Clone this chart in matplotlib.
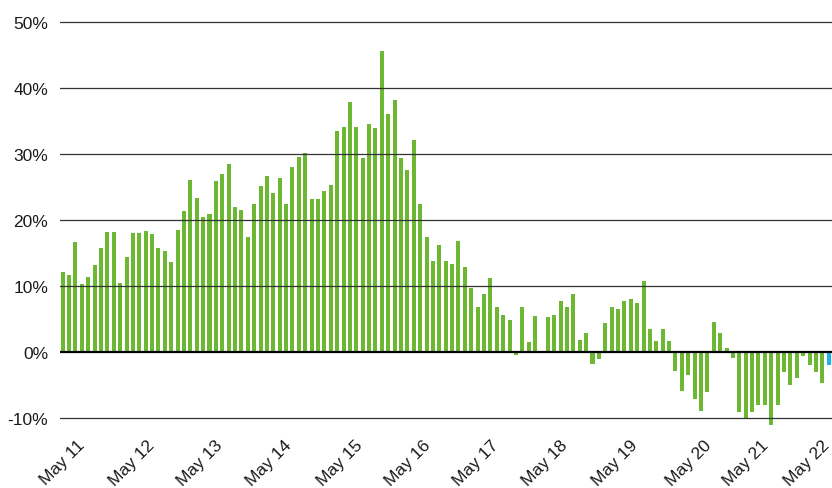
import numpy as np
import matplotlib
matplotlib.use("Agg")
import matplotlib.pyplot as plt

# monthly change, %, last bar is the latest/estimate
values = [
    12.1, 11.7, 16.7, 10.3, 11.4, 13.3, 15.8, 18.2, 18.2, 10.5, 14.4, 18.1, 18.1, 18.4, 17.9, 15.8, 15.4, 13.7, 18.5, 21.4, 26.1,
    23.4, 20.5, 20.9, 25.9, 27.0, 28.6, 22.0, 21.5, 17.5, 22.4, 25.2, 26.7, 24.1, 26.4, 22.4, 28.1, 29.6, 30.2, 23.2, 23.2,
    24.5, 25.3, 33.5, 34.2, 37.9, 34.2, 29.4, 34.6, 34.0, 45.7, 36.1, 38.2, 29.4, 27.6, 32.1, 22.5, 17.4, 13.9, 16.3, 13.9, 13.4,
    16.8, 13.0, 9.8, 6.8, 8.8, 11.2, 6.8, 5.6, 4.9, -0.4, 6.8, 1.6, 5.5, np.nan, 5.3, 5.7, 7.8, 6.9, 8.8, 1.8,
    3.0, -1.8, -1.0, 4.4, 6.8, 6.5, 7.8, 8.1, 7.5, 10.8, 3.6, 1.7, 3.6, 1.7, -2.9, -5.9, -3.5, -7.0, -8.9, -6.0,
    4.6, 3.0, 0.6, -0.9, -9.0, -10.0, -9.0, -8.0, -8.0, -11.0, -8.0, -3.0, -5.0, -3.9, -0.6, -1.9, -3.0, -4.7, -1.9,
]
tick_labels = ["May 11", "May 12", "May 13", "May 14", "May 15", "May 16",
               "May 17", "May 18", "May 19", "May 20", "May 21", "May 22"]
tick_pos = [2.2, 13.2, 23.9, 34.7, 45.7, 56.4, 67.1, 77.9, 88.8, 100.4, 109.3, 118.9]
y_ticks = [-10, 0, 10, 20, 30, 40, 50]

green = "#6cb833"
blue = "#1eb2ea"

x = np.arange(len(values))
colors = [green] * (len(values) - 1) + [blue]

fig = plt.figure(figsize=(8.32, 4.89), dpi=100)
ax = fig.add_axes([60 / 832, 0.1155, 772 / 832, 0.8503])

ax.bar(x, values, width=0.63, color=colors, zorder=2)

for v in y_ticks:
    if v == 0:
        ax.axhline(v, color="black", lw=1.6, zorder=3)
    else:
        ax.axhline(v, color="#333333", lw=0.9, zorder=3)

ax.set_xlim(-0.42, 120.52)
ax.set_ylim(-12, 51)

ax.set_yticks(y_ticks)
ax.set_yticklabels([f"{v}%" for v in y_ticks])
ax.set_xticks(tick_pos)
ax.set_xticklabels(tick_labels, rotation=45, ha="right", va="top",
                   rotation_mode="anchor")

for s in ax.spines.values():
    s.set_visible(False)
ax.tick_params(axis="both", length=0, labelsize=12.5, colors="#1a1a1a")
ax.tick_params(axis="y", pad=8.5)
ax.tick_params(axis="x", pad=4)
for lab in ax.get_xticklabels() + ax.get_yticklabels():
    lab.set_fontfamily("Liberation Sans")

fig.savefig("out.png", dpi=100)
